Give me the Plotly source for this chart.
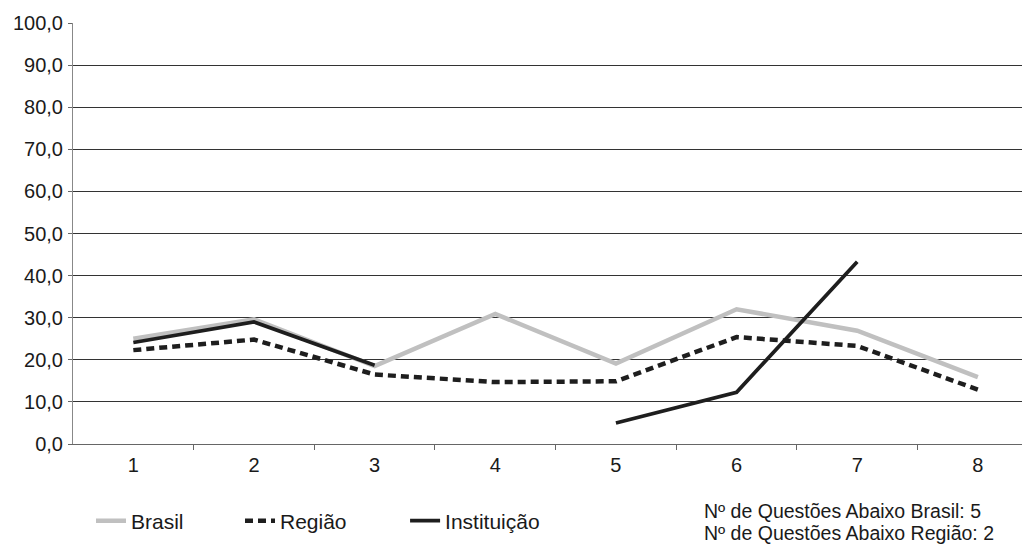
import plotly.graph_objects as go

categories = [1, 2, 3, 4, 5, 6, 7, 8]
brasil = [25.0, 29.6, 18.5, 30.9, 19.1, 32.0, 26.9, 15.9]
regiao = [22.3, 24.8, 16.5, 14.7, 14.9, 25.4, 23.3, 12.9]
instituicao = [24.1, 29.0, 18.7, None, 5.0, 12.3, 43.3, None]
y_ticks = [0, 10, 20, 30, 40, 50, 60, 70, 80, 90, 100]
notes = ["Nº de Questões Abaixo Brasil: 5", "Nº de Questões Abaixo Região: 2"]

font = "Liberation Sans, Arial, sans-serif"
txt = "#1a1a1a"

fig = go.Figure()
fig.add_trace(go.Scatter(x=categories, y=brasil, name="Brasil", mode="lines",
                         line=dict(color="#c0c0c0", width=4.5), legend="legend"))
fig.add_trace(go.Scatter(x=categories, y=regiao, name="Região", mode="lines",
                         line=dict(color="#1e1e1e", width=4.5, dash="8px,5px"), legend="legend2"))
fig.add_trace(go.Scatter(x=categories, y=instituicao, name="Instituição", mode="lines",
                         line=dict(color="#1e1e1e", width=3.7), connectgaps=False, legend="legend3"))

leg_common = dict(orientation="h", y=-0.183, xanchor="left", yanchor="middle",
                  font=dict(size=21, family=font, color=txt), bgcolor="rgba(0,0,0,0)",
                  borderwidth=0)

# page body has an 8px margin, so the figure is sized to fit inside the window
fig.update_layout(
    width=1022, height=538,
    margin=dict(l=65, r=0, t=15, b=102, autoexpand=False),
    paper_bgcolor="white", plot_bgcolor="white",
    font=dict(family=font, size=20, color=txt),
    separators=",.",
    showlegend=True,
    legend=dict(x=0.0188, **leg_common),
    legend2=dict(x=0.1745, **leg_common),
    legend3=dict(x=0.347, **leg_common),
    xaxis=dict(range=[0.5, 8.432], tickvals=categories, ticktext=[str(c) for c in categories],
               showgrid=False, zeroline=False, showline=True, linecolor="#666", linewidth=1,
               ticks="", tickfont=dict(size=20), automargin=False, ticklabelstandoff=3,
               minor=dict(tickvals=[1.5, 2.5, 3.5, 4.5, 5.5, 6.5, 7.5], ticks="outside",
                          ticklen=5, tickcolor="#666", showgrid=False)),
    yaxis=dict(range=[0, 100], tickvals=y_ticks, tickformat=".1f",
               showgrid=True, gridcolor="#333", gridwidth=1,
               zeroline=False, showline=True, linecolor="#888", linewidth=1,
               ticks="outside", ticklen=4, tickcolor="#666", tickfont=dict(size=20),
               automargin=False, ticklabelstandoff=1),
)

note_y = [-0.1591, -0.2114]
for t, yv in zip(notes, note_y):
    fig.add_annotation(text=t, xref="paper", yref="paper", x=0.657, y=yv,
                       xanchor="left", yanchor="middle", showarrow=False,
                       font=dict(size=19.5, family=font, color=txt))

fig.write_html("out.html")
